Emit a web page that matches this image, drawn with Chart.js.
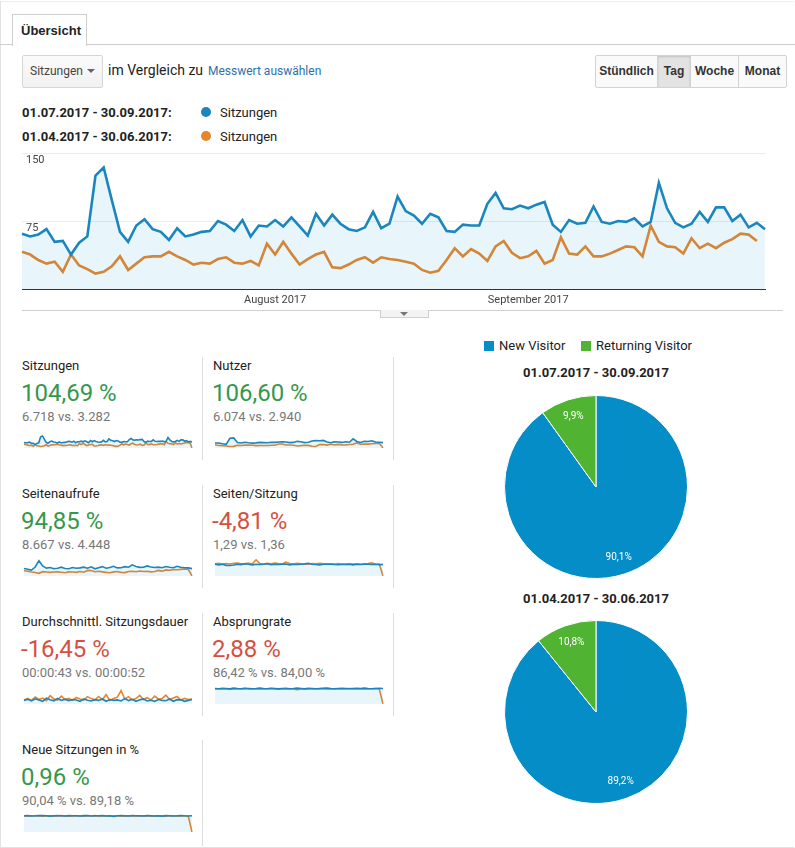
<!DOCTYPE html>
<html><head><meta charset="utf-8">
<script src="https://cdn.jsdelivr.net/npm/chart.js@4.4.1/dist/chart.umd.min.js"></script>
<style>
html,body{margin:0;padding:0;background:#fff;}
body{width:795px;height:848px;position:relative;overflow:hidden;font-family:Roboto,Arial,sans-serif;color:#222;}
.a{position:absolute;white-space:nowrap;line-height:1;}
.box{position:absolute;}
.btn{position:absolute;top:0;height:31px;line-height:31px;text-align:center;font-size:12px;font-weight:bold;color:#333;font-family:Arial,Roboto,sans-serif;}
</style></head><body>
<div class="box" style="left:0;top:1px;width:793px;height:845px;border-left:1px solid #e2e2e2;border-top:1px solid #eee;border-bottom:1px solid #e2e2e2;"></div>
<div class="box" style="left:0;top:44px;width:795px;height:1px;background:#cfcfcf;"></div>
<div class="box" style="left:12px;top:14px;width:73px;height:31px;border:1px solid #cfcfcf;border-bottom:none;background:#fff;"></div>
<div class="a" style="left:21px;top:24px;font-size:13px;font-weight:bold;color:#222;font-family:Arial,Roboto,sans-serif;">Übersicht</div>

<div class="box" style="left:22px;top:55px;width:79px;height:31px;border:1px solid #d6d6d6;border-radius:2px;background:linear-gradient(#fbfbfb,#f1f1f1);"></div>
<div class="a" style="left:30px;top:65px;font-size:12px;color:#444;">Sitzungen</div>
<div class="box" style="left:87px;top:69px;width:0;height:0;border-left:4px solid transparent;border-right:4px solid transparent;border-top:4px solid #666;"></div>
<div class="a" style="left:108px;top:63px;font-size:14px;color:#222;">im Vergleich zu</div>
<div class="a" style="left:208px;top:65px;font-size:12px;color:#2f6fab;">Messwert auswählen</div>

<div class="box" style="left:595px;top:55px;width:190px;height:31px;border:1px solid #d3d3d3;border-radius:2px;background:#fafafa;overflow:hidden;">
  <div class="btn" style="left:0;width:61px;border-right:1px solid #d3d3d3;">Stündlich</div>
  <div class="btn" style="left:62px;width:32px;background:#e3e3e3;border-right:1px solid #d0d0d0;box-shadow:inset 0 1px 2px rgba(0,0,0,.15);">Tag</div>
  <div class="btn" style="left:95px;width:47px;border-right:1px solid #d3d3d3;">Woche</div>
  <div class="btn" style="left:143px;width:47px;">Monat</div>
</div>

<div class="a" id="lg1" style="left:22px;top:106px;font-size:13px;font-weight:bold;color:#222;"></div>
<div class="box" style="left:201px;top:107px;width:10px;height:10px;border-radius:50%;background:#1a86bd;"></div>
<div class="a" id="lg1s" style="left:220px;top:106px;font-size:13px;color:#222;"></div>
<div class="a" id="lg2" style="left:22px;top:130px;font-size:13px;font-weight:bold;color:#222;"></div>
<div class="box" style="left:201px;top:131px;width:10px;height:10px;border-radius:50%;background:#e8842a;"></div>
<div class="a" id="lg2s" style="left:220px;top:130px;font-size:13px;color:#222;"></div>

<div class="box" style="left:10px;top:140px;width:770px;height:170px;"><canvas id="main"></canvas></div>
<div class="box" style="left:22px;top:310px;width:761px;height:1px;background:#d0d0d0;"></div>
<div class="box" style="left:380px;top:310px;width:47px;height:7px;border:1px solid #d0d0d0;border-top:none;background:#f3f3f3;"></div>
<div class="box" style="left:400px;top:312px;width:0;height:0;border-left:4px solid transparent;border-right:4px solid transparent;border-top:4px solid #777;"></div>

<div id="metrics"></div>

<div class="box" style="left:484px;top:341px;width:10px;height:10px;background:#058dc7;"></div>
<div class="a" id="pl1" style="left:499px;top:339px;font-size:13px;color:#222;"></div>
<div class="box" style="left:581px;top:341px;width:10px;height:10px;background:#50b432;"></div>
<div class="a" id="pl2" style="left:596px;top:339px;font-size:13px;color:#222;"></div>
<div class="a" id="pt1" style="left:496px;top:366px;width:200px;text-align:center;font-size:13px;font-weight:bold;color:#222;"></div>
<div class="box" style="left:504px;top:395px;width:184px;height:184px;"><canvas id="pie1"></canvas></div>
<div class="a" id="pt2" style="left:496px;top:592px;width:200px;text-align:center;font-size:13px;font-weight:bold;color:#222;"></div>
<div class="box" style="left:504px;top:620px;width:184px;height:184px;"><canvas id="pie2"></canvas></div>

<script>
// ---------- DATA ----------
const periodCur = '01.07.2017 - 30.09.2017';
const periodPrev = '01.04.2017 - 30.06.2017';
const metricLabel = 'Sitzungen';
const monthTicks = ['August 2017', 'September 2017'];
const monthTickIndex = [31, 62];
const yTicks = [75, 150];

// Sitzungen pro Tag, 01.07.–30.09.2017 (92 Tage)
const sessionsCur = [61,58,60,66,52,53,38,51,58,125,134,98,63,52,70,77,66,63,54,67,58,60,63,64,75,71,64,76,58,70,69,76,69,79,69,59,83,70,82,72,66,64,68,85,67,72,102,
  86,81,72,83,79,64,63,71,70,70,94,106,89,88,92,89,93,96,71,63,76,72,73,91,74,72,75,74,78,69,74,117,89,73,68,72,85,74,90,90,75,82,68,73,66];
// Sitzungen pro Tag, 01.04.–30.06.2017 (91 Tage)
const sessionsPrev = [41,38,32,28,30,19,38,26,22,17,19,25,36,21,28,35,36,36,41,36,32,27,29,28,33,35,29,28,31,26,50,38,52,39,27,33,38,41,24,23,27,32,35,29,35,33,32,
  30,28,21,18,20,32,45,36,44,39,31,47,53,40,34,36,42,28,32,57,39,38,47,36,36,39,43,47,46,36,70,52,47,46,39,56,45,50,45,51,55,61,60,53];

const metricNames = ['Sitzungen','Nutzer','Seitenaufrufe','Seiten/Sitzung','Durchschnittl. Sitzungsdauer','Absprungrate','Neue Sitzungen in %'];
const metricChanges = ['104,69 %','106,60 %','94,85 %','-4,81 %','-16,45 %','2,88 %','0,96 %'];
const metricGood = [true,true,true,false,false,false,true];
const metricCompare = ['6.718 vs. 3.282','6.074 vs. 2.940','8.667 vs. 4.448','1,29 vs. 1,36','00:00:43 vs. 00:00:52','86,42 % vs. 84,00 %','90,04 % vs. 89,18 %'];

const sessionsPrevSparkEnd = [0];
const usersCur = [56,55,47,40,108,112,60,56,64,58,54,57,62,60,58,64,62,66,70,66,60,62,74,70,60,64,78,82,80,84,66,58,68,66,62,70,64,102,72,62,74,72,80,66,64,60];
const usersPrev = [36,27,26,23,16,18,30,28,32,33,31,26,27,28,27,31,30,44,45,34,33,30,22,26,31,29,20,17,38,39,32,42,33,40,35,34,39,41,56,42,44,43,47,51,52,0];
const pageviewsCur = [84,76,66,100,170,112,88,94,80,86,98,84,80,94,86,90,98,86,102,80,92,104,86,94,108,90,92,104,98,124,106,96,98,112,100,94,98,92,106,98,92,108,98,92,90,82];
const pageviewsPrev = [58,52,44,38,30,48,44,40,44,46,42,36,46,44,40,50,42,62,60,48,52,46,40,36,46,50,40,38,50,52,48,56,50,52,46,50,62,54,68,64,72,70,74,78,74,0];
const ppsCur = [1.3,1.24,1.32,1.18,1.16,1.22,1.3,1.27,1.36,1.3,1.24,1.31,1.28,1.3,1.36,1.25,1.31,1.27,1.3,1.33,1.24,1.3,1.27,1.31,1.35,1.42,1.3,1.27,1.24,1.3,1.33,1.3,1.27,1.25,1.31,1.28,1.3,1.24,1.3,1.27,1.32,1.3,1.28,1.31,1.25,1.29];
const ppsPrev = [1.36,1.41,1.3,1.38,1.34,1.42,1.45,1.35,1.38,1.42,1.35,1.8,1.38,1.34,1.4,1.36,1.43,1.38,1.35,1.55,1.38,1.34,1.41,1.36,1.32,1.3,1.38,1.35,1.4,1.36,1.3,1.35,1.32,1.37,1.3,1.34,1.36,1.32,1.35,1.3,1.34,1.38,1.46,1.3,1.35,0];
const durationCur = [38,52,34,58,44,30,66,48,36,62,40,54,38,50,44,30,58,42,34,48,40,56,30,50,40,46,34,60,38,52,30,46,56,34,42,30,50,40,36,56,30,48,46,30,40,50];
const durationPrev = [44,62,40,78,50,66,38,92,56,44,88,50,62,40,72,56,44,82,60,46,84,50,104,40,62,76,150,56,82,46,60,96,50,70,44,88,56,62,98,50,66,84,44,62,50,56];
const bounceCur = [86,85,87,86,84,88,86,85,87,86,85,86,88,86,85,87,86,84,86,87,85,86,88,86,84,87,86,85,86,87,88,86,85,86,87,86,85,86,87,86,88,86,85,86,87,86];
const bouncePrev = [84,83,85,84,82,83,85,84,86,83,84,85,83,84,85,86,84,82,84,85,83,84,80,84,85,84,83,85,84,86,84,85,83,84,85,84,86,84,83,85,84,83,85,86,84,0];
const newSessCur = [90,91,89,90,92,91,90,88,90,91,90,89,91,90,90,89,91,92,89,90,90,91,89,90,87,90,91,90,89,91,90,90,89,91,90,89,90,88,91,90,89,90,92,90,89,90];
const newSessPrev = [89,88,90,89,90,88,89,90,88,89,91,89,88,89,90,89,88,90,89,91,88,89,90,89,88,90,89,88,90,89,89,88,90,89,88,89,90,89,88,89,90,88,89,90,89,0];

const visitorTypes = ['New Visitor','Returning Visitor'];
const visitorsCur = [90.1, 9.9];
const visitorsPrev = [89.2, 10.8];

// ---------- RENDER ----------
const BLUE = '#1a86bd', ORANGE = '#e8842a', FILL = 'rgba(5,141,199,0.09)';
const PIE_BLUE = '#058dc7', PIE_GREEN = '#50b432';
const GREEN_TXT = '#35984a', RED_TXT = '#d4513f';

document.getElementById('lg1').textContent = periodCur + ':';
document.getElementById('lg2').textContent = periodPrev + ':';
document.getElementById('lg1s').textContent = metricLabel;
document.getElementById('lg2s').textContent = metricLabel;
document.getElementById('pl1').textContent = visitorTypes[0];
document.getElementById('pl2').textContent = visitorTypes[1];
document.getElementById('pt1').textContent = periodCur;
document.getElementById('pt2').textContent = periodPrev;

const days = [];
for (let i = 0; i < sessionsCur.length; i++) {
  const d = new Date(Date.UTC(2017, 6, 1 + i));
  days.push(d.toISOString().slice(0, 10));
}

new Chart(document.getElementById('main'), {
  type: 'line',
  data: { labels: days, datasets: [
    { label: periodCur, data: sessionsCur, borderColor: BLUE, backgroundColor: FILL, fill: 'origin', borderWidth: 2.6, pointRadius: 0, tension: 0 },
    { label: periodPrev, data: sessionsPrev, borderColor: ORANGE, fill: false, borderWidth: 2.6, pointRadius: 0, tension: 0 }
  ]},
  options: {
    animation: false, responsive: true, maintainAspectRatio: false,
    layout: { padding: { left: 12, right: 15, top: 13, bottom: 0 } },
    plugins: { legend: { display: false }, tooltip: { enabled: false } },
    scales: {
      x: {
        grid: { display: false, drawTicks: false },
        border: { display: true, color: '#333', width: 1 },
        ticks: { autoSkip: false, maxRotation: 0, minRotation: 0, padding: 5, color: '#444', font: { size: 11, family: 'Roboto' },
          callback: (v, i) => { const k = monthTickIndex.indexOf(i); return k >= 0 ? monthTicks[k] : ''; } },
        afterFit: s => { s.height = 21; }
      },
      y: {
        min: 0, max: yTicks[1],
        grid: { color: '#ececec', drawTicks: false },
        border: { display: false },
        afterBuildTicks: s => { s.ticks = [{ value: 0 }].concat(yTicks.map(v => ({ value: v }))); },
        ticks: { mirror: true, padding: 4, labelOffset: 7, color: '#444', font: { size: 11, family: 'Roboto' },
          callback: v => v === 0 ? '' : String(v) },
        afterFit: s => { s.width = 0; }
      }
    }
  }
});

// metric cards
const sparkData = [
  [sessionsCur, sessionsPrev.concat(sessionsPrevSparkEnd), undefined],
  [usersCur, usersPrev, undefined],
  [pageviewsCur, pageviewsPrev, undefined],
  [ppsCur, ppsPrev, 2],
  [durationCur, durationPrev, undefined],
  [bounceCur, bouncePrev, 100],
  [newSessCur, newSessPrev, 100]
];
const mroot = document.getElementById('metrics');
function addDiv(style, text, cls) {
  const d = document.createElement('div');
  d.className = cls || 'a';
  d.setAttribute('style', style);
  if (text !== undefined) d.textContent = text;
  mroot.appendChild(d);
  return d;
}
for (let i = 0; i < metricNames.length; i++) {
  const r = Math.floor(i / 2), c = i % 2;
  const x = c ? 213 : 22;
  const y0 = r * 128;
  addDiv(`left:${x}px;top:${359 + y0}px;font-size:13px;color:#222;`, metricNames[i]);
  addDiv(`left:${x - 1}px;top:${381 + y0}px;font-size:24px;color:${metricGood[i] ? GREEN_TXT : RED_TXT};`, metricChanges[i]);
  addDiv(`left:${x}px;top:${410 + y0}px;font-size:13px;color:#777;`, metricCompare[i]);
  const holder = addDiv(`left:${x + 1}px;top:${428 + y0}px;width:170px;height:20px;`, undefined, 'box');
  const cv = document.createElement('canvas');
  holder.appendChild(cv);
  const [cur, prev, mx] = sparkData[i];
  new Chart(cv, {
    type: 'line',
    data: { labels: cur.map((_, k) => k), datasets: [
      { data: cur, borderColor: BLUE, backgroundColor: FILL, fill: 'origin', borderWidth: 1.6, pointRadius: 0, tension: 0 },
      { data: prev, borderColor: ORANGE, fill: false, borderWidth: 1.6, pointRadius: 0, tension: 0 }
    ]},
    options: {
      animation: false, responsive: true, maintainAspectRatio: false,
      layout: { padding: { top: 2, bottom: 0, left: 1, right: 1 } },
      plugins: { legend: { display: false }, tooltip: { enabled: false } },
      scales: { x: { display: false }, y: { display: false, min: 0, max: mx } }
    }
  });
}
// separators
for (let r = 0; r < 3; r++) {
  addDiv(`left:202px;top:${357 + r * 128}px;width:1px;height:103px;background:#dcdcdc;`, undefined, 'box');
  addDiv(`left:393px;top:${357 + r * 128}px;width:1px;height:103px;background:#dcdcdc;`, undefined, 'box');
}
addDiv(`left:202px;top:740px;width:1px;height:106px;background:#dcdcdc;`, undefined, 'box');

// pies
const pieLabels = {
  id: 'pieLabels',
  afterDatasetsDraw(chart) {
    const ctx = chart.ctx;
    const meta = chart.getDatasetMeta(0);
    const vals = chart.data.datasets[0].data;
    ctx.save();
    ctx.fillStyle = '#fff';
    ctx.font = '10px Roboto';
    ctx.textAlign = 'center';
    ctx.textBaseline = 'middle';
    meta.data.forEach((arc, i) => {
      const p = arc.getProps(['x', 'y', 'startAngle', 'endAngle', 'outerRadius']);
      const a = (p.startAngle + p.endAngle) / 2;
      const rr = p.outerRadius * 0.81;
      ctx.fillText(vals[i].toFixed(1).replace('.', ',') + '%', p.x + Math.cos(a) * rr, p.y + Math.sin(a) * rr);
    });
    ctx.restore();
  }
};
function pie(id, vals) {
  new Chart(document.getElementById(id), {
    type: 'pie',
    data: { labels: visitorTypes, datasets: [{ data: vals, backgroundColor: [PIE_BLUE, PIE_GREEN], borderColor: '#fff', borderWidth: 1 }] },
    options: { animation: false, responsive: true, maintainAspectRatio: false,
      layout: { padding: 0 },
      plugins: { legend: { display: false }, tooltip: { enabled: false } } },
    plugins: [pieLabels]
  });
}
pie('pie1', visitorsCur);
pie('pie2', visitorsPrev);
</script>
</body></html>
